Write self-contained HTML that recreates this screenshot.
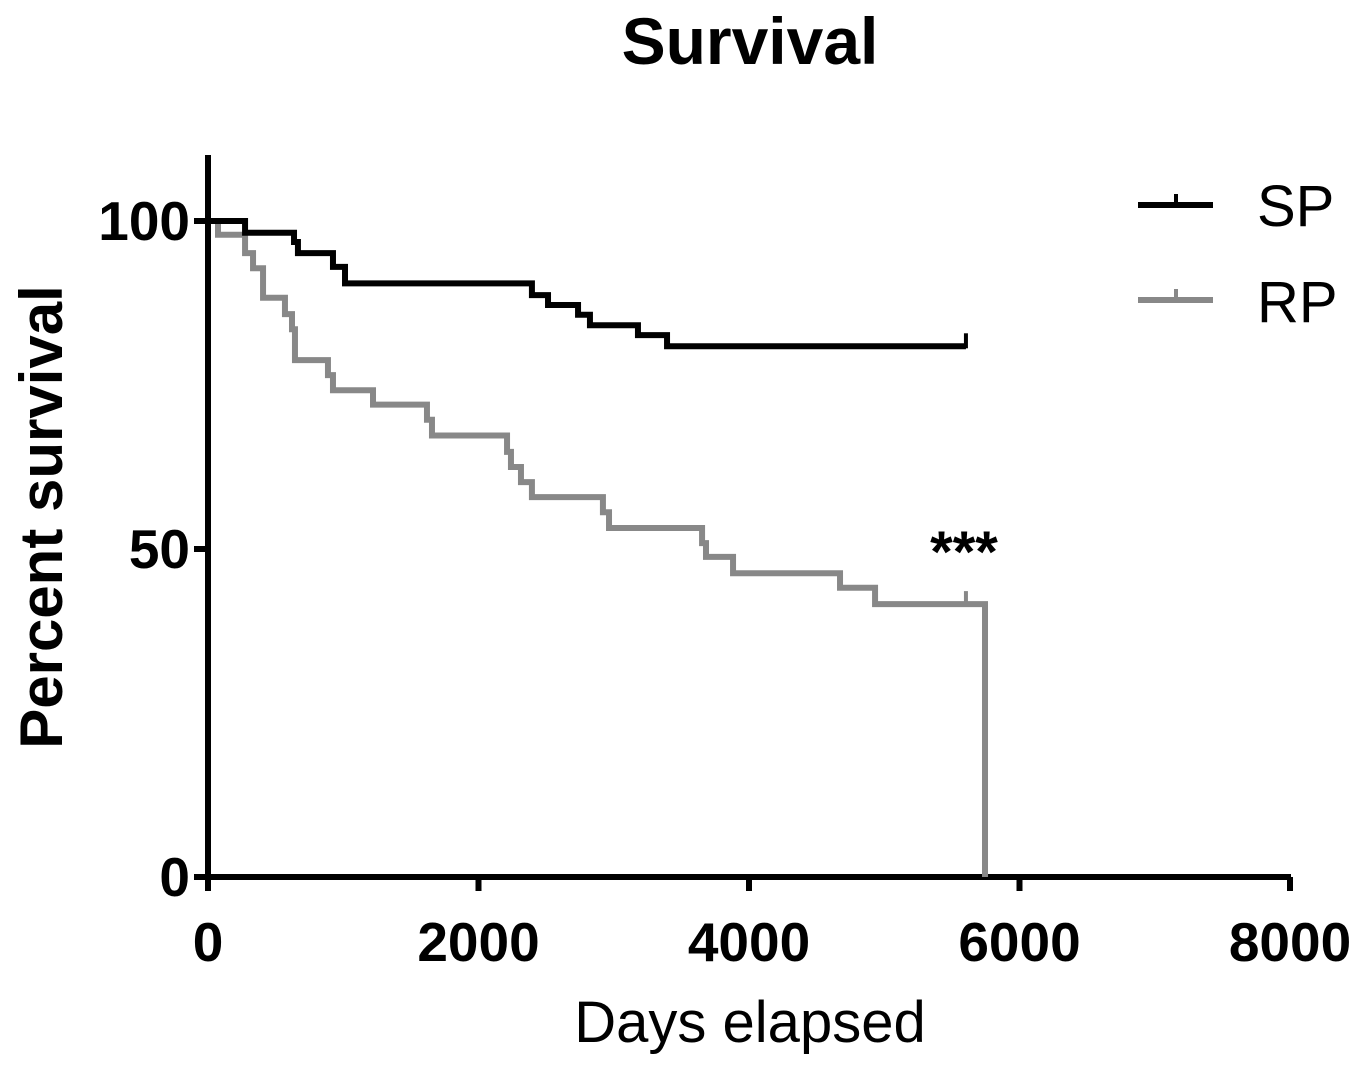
<!DOCTYPE html>
<html><head><meta charset="utf-8"><style>
body{margin:0;background:#fff;}
svg{display:block;font-family:"Liberation Sans",Arial,sans-serif;}
</style></head><body>
<svg id="chart" width="1367" height="1072" viewBox="0 0 1367 1072">
<text x="750" y="64" text-anchor="middle" font-size="66" font-weight="bold">Survival</text>
<text transform="translate(62,517) rotate(-90)" text-anchor="middle" font-size="60" font-weight="bold">Percent survival</text>
<text x="750" y="1042" text-anchor="middle" font-size="58">Days elapsed</text>
<g id="axes"></g>
<g id="series"></g>
<text x="964" y="572" text-anchor="middle" font-size="58" font-weight="bold">***</text>
<g>
<g>
<line x1="1138" y1="205" x2="1213" y2="205" stroke="#000" stroke-width="6"/>
<line x1="1176" y1="205" x2="1176" y2="194" stroke="#000" stroke-width="4"/>
<text x="1257" y="226" font-size="58">SP</text>
</g>
<g>
<line x1="1138" y1="300" x2="1213" y2="300" stroke="#888" stroke-width="6"/>
<line x1="1176" y1="300" x2="1176" y2="289" stroke="#888" stroke-width="4"/>
<text x="1257" y="322" font-size="58">RP</text>
</g>
</g>
</svg>
<script>
const xTicks=[0,2000,4000,6000,8000];
const yTicks=[0,50,100];
const spDays=[0,274,636,665,924,1013,2395,2514,2736,2824,3179,3394,5604];
const spSurv=[100,98.2,96.8,95.1,93.0,90.5,88.7,87.2,85.7,84.1,82.6,80.9,80.9];
const spCensor=[5604];
const rpDays=[0,74,274,333,407,569,621,643,887,924,1220,1619,1656,2211,2240,2314,2395,2920,2965,3653,3682,3882,4673,4932,5745];
const rpSurv=[100,97.9,95.1,92.8,88.3,85.8,83.5,78.8,76.5,74.2,72.0,69.7,67.3,64.8,62.5,60.2,57.9,55.6,53.2,50.9,48.8,46.3,44.1,41.6,0];
const rpCensor=[5604];
const rpCensorSurv=41.6;
const spCensorSurv=80.9;

const NS='http://www.w3.org/2000/svg';
const X=d=>208+d*(1290-208)/8000;
const Y=v=>877-v*(877-221)/100;
function mk(tag,attrs,parent){const e=document.createElementNS(NS,tag);for(const k in attrs)e.setAttribute(k,attrs[k]);parent.appendChild(e);return e;}
const axes=document.getElementById('axes');
const yAxis=mk('line',{x1:208,y1:155,x2:208,y2:880,stroke:'#000','stroke-width':6},axes);


const xAxis=mk('line',{x1:205,y1:877,x2:1291,y2:877,stroke:'#000','stroke-width':6},axes);


xTicks.forEach(t=>{
  const l=mk('line',{x1:X(t),y1:877,x2:X(t),y2:891,stroke:'#000','stroke-width':6},axes);
  
  
  const tx=mk('text',{x:X(t),y:961,'text-anchor':'middle','font-size':55,'font-weight':'bold'},axes);
  tx.textContent=t;
  
  
});
yTicks.forEach(t=>{
  const l=mk('line',{x1:194,y1:Y(t),x2:208,y2:Y(t),stroke:'#000','stroke-width':6},axes);
  
  
  const tx=mk('text',{x:190,y:Y(t)+19,'text-anchor':'end','font-size':55,'font-weight':'bold'},axes);
  tx.textContent=t;
  
  
});
function stepPath(days,surv){
  let d='M'+X(days[0])+','+Y(surv[0]);
  for(let i=1;i<days.length;i++){d+=' H'+X(days[i])+' V'+Y(surv[i]);}
  return d;
}
const ser=document.getElementById('series');
const rp=mk('path',{d:stepPath(rpDays,rpSurv),fill:'none',stroke:'#888','stroke-width':6},ser);


rpCensor.forEach(c=>{
  const l=mk('line',{x1:X(c),y1:Y(rpCensorSurv),x2:X(c),y2:Y(rpCensorSurv)-13,stroke:'#888','stroke-width':4},ser);
  
  
});
const sp=mk('path',{d:stepPath(spDays,spSurv),fill:'none',stroke:'#000','stroke-width':6},ser);


spCensor.forEach(c=>{
  const l=mk('line',{x1:X(c),y1:Y(spCensorSurv)+2,x2:X(c),y2:Y(spCensorSurv)-13,stroke:'#000','stroke-width':4},ser);
  
  
});
</script>
</body></html>
